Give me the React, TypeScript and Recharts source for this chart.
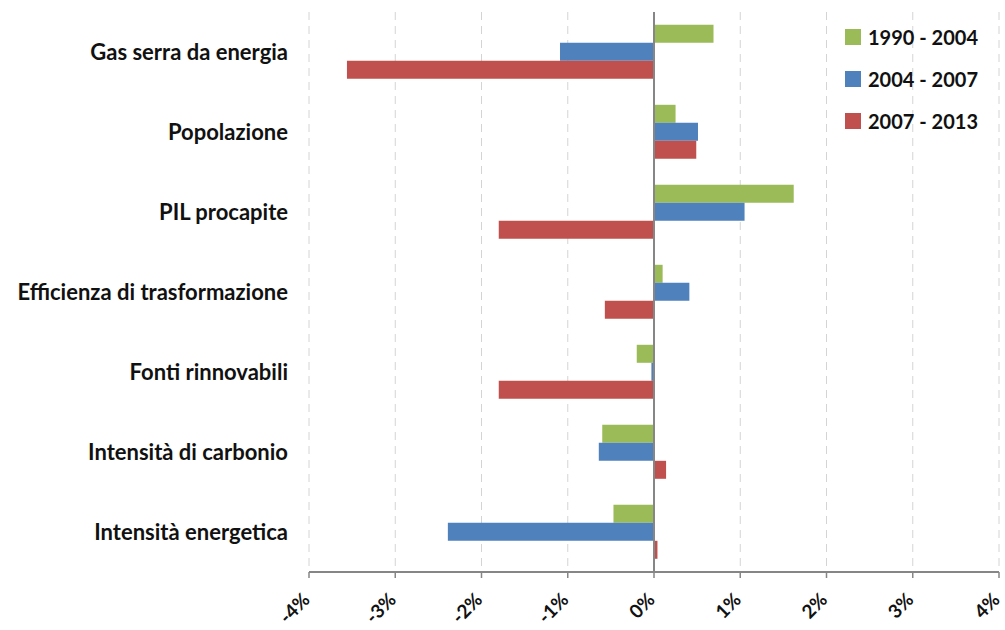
import React from "react";
import { BarChart, Bar, XAxis, YAxis, CartesianGrid, ReferenceLine, Legend } from "recharts";

const categories = [
  "Gas serra da energia",
  "Popolazione",
  "PIL procapite",
  "Efficienza di trasformazione",
  "Fonti rinnovabili",
  "Intensità di carbonio",
  "Intensità energetica",
];
const period1990 = [0.69, 0.25, 1.62, 0.1, -0.2, -0.6, -0.47];
const period2004 = [-1.09, 0.51, 1.05, 0.41, -0.03, -0.64, -2.39];
const period2007 = [-3.56, 0.49, -1.8, -0.57, -1.8, 0.14, 0.04];
const xTicks = [-4, -3, -2, -1, 0, 1, 2, 3, 4];

const SERIES = [
  { key: "a", name: "1990 - 2004", color: "#9BBB59" },
  { key: "b", name: "2004 - 2007", color: "#4F81BD" },
  { key: "c", name: "2007 - 2013", color: "#C0504D" },
];

const data = categories.map((name, i) => ({
  name,
  a: period1990[i],
  b: period2004[i],
  c: period2007[i],
}));

const FONT = "Lato, 'Liberation Sans', sans-serif";

// rotated % labels under the axis
const RotatedTick = ({ x, y, payload }: any) => (
  <text
    x={x + 2}
    y={y + 21}
    transform={`rotate(-45, ${x + 2}, ${y + 21})`}
    textAnchor="end"
    fontFamily={FONT}
    fontWeight={700}
    fontSize={19}
    fill="#111"
  >
    {`${payload.value}%`}
  </text>
);

const LegendBox = () => (
  <div style={{ fontFamily: FONT, fontWeight: 700, fontSize: 20, color: "#111" }}>
    {SERIES.map((s) => (
      <div key={s.key} style={{ display: "flex", alignItems: "center", height: 42 }}>
        <span style={{ width: 16, height: 16, background: s.color, marginRight: 7, display: "inline-block" }} />
        {s.name}
      </div>
    ))}
  </div>
);

export default function App() {
  return (
    <div style={{ position: "absolute", left: 0, top: 0, background: "#fff" }}>
      <BarChart
        width={1005}
        height={630}
        data={data}
        layout="vertical"
        margin={{ top: 12, right: 6, bottom: 8, left: 0 }}
        barCategoryGap="16%"
        barGap={0}
      >
        <CartesianGrid horizontal={false} stroke="#d4d4d4" strokeDasharray="8 6" />
        <XAxis
          type="number"
          domain={[-4, 4]}
          ticks={xTicks}
          interval={0}
          height={50}
          tick={<RotatedTick />}
          axisLine={{ stroke: "#868686", strokeWidth: 2 }}
          tickLine={{ stroke: "#868686", strokeWidth: 1.5 }}
          tickSize={6}
        />
        <YAxis
          type="category"
          dataKey="name"
          width={309}
          axisLine={false}
          tickLine={false}
          tickSize={0}
          tickMargin={21}
          tick={{ fontFamily: FONT, fontWeight: 700, fontSize: 22, fill: "#111" }}
        />
        <ReferenceLine x={0} stroke="#868686" strokeWidth={2} />
        <Legend
          layout="horizontal"
          verticalAlign="middle"
          align="center"
          content={<LegendBox />}
          wrapperStyle={{ left: 845, top: 16, width: 160 }}
        />
        {SERIES.map((s) => (
          <Bar key={s.key} dataKey={s.key} name={s.name} fill={s.color} isAnimationActive={false} />
        ))}
      </BarChart>
    </div>
  );
}
